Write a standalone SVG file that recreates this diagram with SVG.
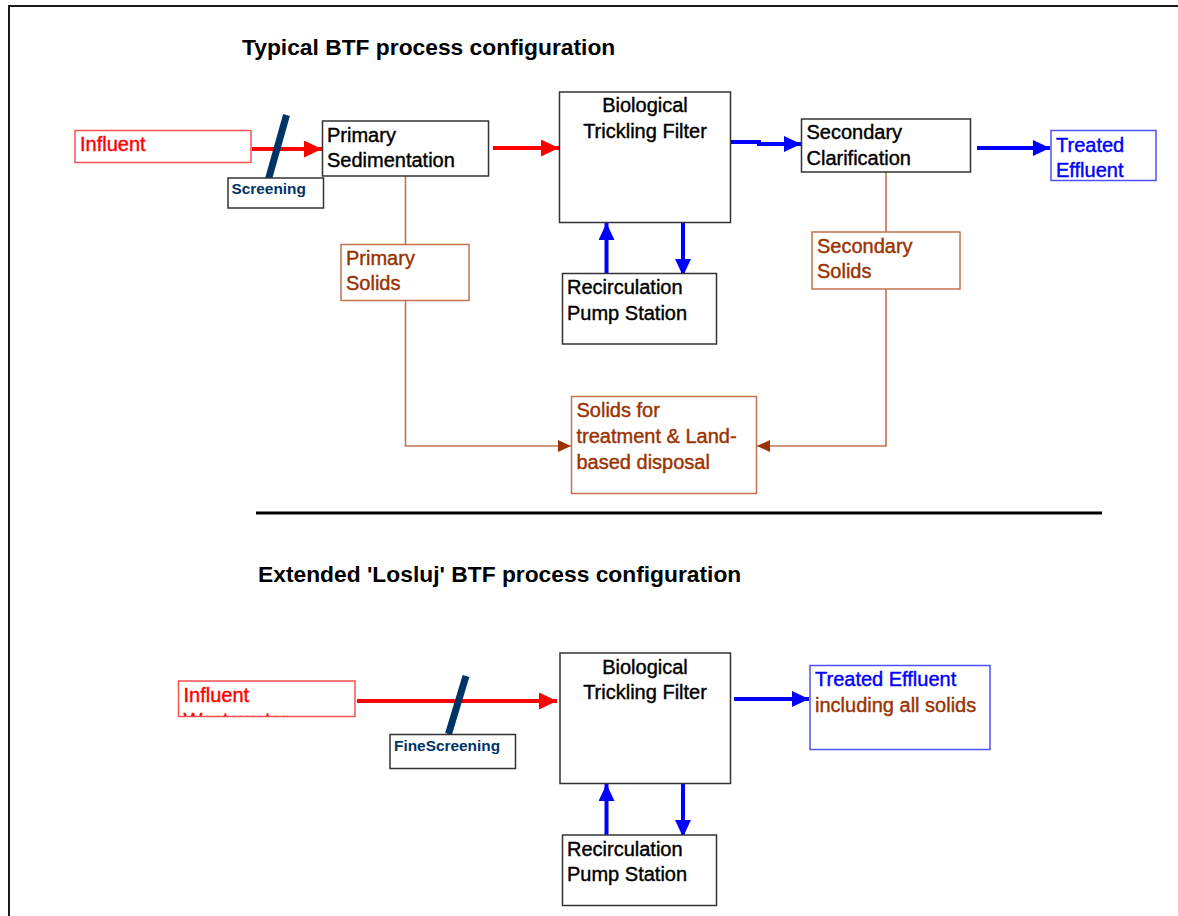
<svg xmlns="http://www.w3.org/2000/svg" width="1178" height="916" viewBox="0 0 1178 916">
<defs>
<style>
text{font-family:"Liberation Sans",Arial,sans-serif;font-size:20px;stroke-width:0.4}
.title{font-weight:bold;font-size:22.8px;fill:#000;stroke:none}
.box{fill:#fff;stroke:#333;stroke-width:1.5}
.bbox{fill:#fff;stroke:#c0734c;stroke-width:1.5}
.rbox{fill:#fff;stroke:#ff5050;stroke-width:1.5}
.ubox{fill:#fff;stroke:#5050ff;stroke-width:1.5}
.t{fill:#000;stroke:#000}
.tb{fill:#993300;stroke:#993300}
.tr{fill:#ff0000;stroke:#ff0000}
.tu{fill:#0000ff;stroke:#0000ff}
.scr{font-size:15.4px;font-weight:bold;fill:#003366;stroke:none}
.slash{stroke:#003366;stroke-width:7}
.red{stroke:#ff0000;stroke-width:4;fill:none}
.blue{stroke:#0000ff;stroke-width:4;fill:none}
.brown{stroke:#c0734c;stroke-width:1.6;fill:none}
</style>
<marker id="ah-red" markerUnits="userSpaceOnUse" markerWidth="18" markerHeight="17" refX="18" refY="8.5" orient="auto"><path d="M0,0 L18,8.5 L0,17 z" fill="#ff0000"/></marker>
<marker id="ah-blue" markerUnits="userSpaceOnUse" markerWidth="17" markerHeight="16" refX="17" refY="8" orient="auto"><path d="M0,0 L17,8 L0,16 z" fill="#0000ff"/></marker>
<marker id="ah-brown" markerUnits="userSpaceOnUse" markerWidth="13" markerHeight="12" refX="13" refY="6" orient="auto"><path d="M0,0 L13,6 L0,12 z" fill="#993300"/></marker>
<clipPath id="clip-ww"><rect x="179" y="681" width="176" height="35"/></clipPath>
</defs>
<rect width="1178" height="916" fill="#fff"/>
<path d="M9,920 V6 H1182" fill="none" stroke="#1a1a1a" stroke-width="2"/>

<text class="title" x="242" y="55">Typical BTF process configuration</text>
<line x1="256" y1="513" x2="1102" y2="513" stroke="#000" stroke-width="3"/>
<text class="title" x="258" y="582">Extended 'Losluj' BTF process configuration</text>

<g id="connectors">
<line class="red" x1="252" y1="149" x2="322" y2="149" marker-end="url(#ah-red)"/>
<line class="red" x1="493" y1="148" x2="559" y2="148" marker-end="url(#ah-red)"/>
<path class="blue" d="M731,142 H759 V144 H801" marker-end="url(#ah-blue)"/>
<line class="blue" x1="977" y1="148" x2="1050" y2="148" marker-end="url(#ah-blue)"/>
<line class="blue" x1="606.5" y1="273" x2="606.5" y2="223" marker-end="url(#ah-blue)"/>
<line class="blue" x1="683" y1="223" x2="683" y2="276" marker-end="url(#ah-blue)"/>
<path class="brown" d="M405.5,176 V244"/>
<path class="brown" d="M405.5,301 V446 H571" marker-end="url(#ah-brown)"/>
<path class="brown" d="M886,172 V232"/>
<path class="brown" d="M886,289 V446 H757" marker-end="url(#ah-brown)"/>
<line class="red" x1="357" y1="701" x2="557" y2="701" marker-end="url(#ah-red)"/>
<line class="blue" x1="734" y1="699" x2="809" y2="699" marker-end="url(#ah-blue)"/>
<line class="blue" x1="606.5" y1="835" x2="606.5" y2="784" marker-end="url(#ah-blue)"/>
<line class="blue" x1="683" y1="783" x2="683" y2="837" marker-end="url(#ah-blue)"/>
</g>

<g id="influent">
<rect class="rbox" x="75" y="130.5" width="176" height="32"/>
<text class="tr" x="80" y="151">Influent</text>
</g>
<g id="screening">
<line class="slash" x1="286.5" y1="115" x2="268.5" y2="179"/>
<rect class="box" x="228" y="178" width="95.5" height="30"/>
<text class="scr" x="231.5" y="193.5">Screening</text>
</g>
<g id="primary-sedimentation">
<rect class="box" x="322.5" y="121" width="166" height="55"/>
<text class="t" x="327" y="141.5">Primary</text>
<text class="t" x="327" y="166.5">Sedimentation</text>
</g>
<g id="btf-1">
<rect class="box" x="559.5" y="92" width="171" height="130.5"/>
<text class="t" x="645" y="112" text-anchor="middle">Biological</text>
<text class="t" x="645" y="137.5" text-anchor="middle">Trickling Filter</text>
</g>
<g id="secondary-clarification">
<rect class="box" x="801.5" y="119" width="169" height="53"/>
<text class="t" x="806.5" y="138.5">Secondary</text>
<text class="t" x="806.5" y="165">Clarification</text>
</g>
<g id="treated-effluent-1">
<rect class="ubox" x="1051" y="130.5" width="105" height="50"/>
<text class="tu" x="1056" y="152">Treated</text>
<text class="tu" x="1056" y="177">Effluent</text>
</g>
<g id="recirculation-1">
<rect class="box" x="562.5" y="273.5" width="154" height="70.5"/>
<text class="t" x="567" y="294">Recirculation</text>
<text class="t" x="567" y="319.5">Pump Station</text>
</g>
<g id="primary-solids">
<rect class="bbox" x="341" y="244.5" width="128" height="56"/>
<text class="tb" x="346" y="265">Primary</text>
<text class="tb" x="346" y="290">Solids</text>
</g>
<g id="secondary-solids">
<rect class="bbox" x="812" y="232" width="148" height="57"/>
<text class="tb" x="817" y="253">Secondary</text>
<text class="tb" x="817" y="277.5">Solids</text>
</g>
<g id="solids-disposal">
<rect class="bbox" x="571.5" y="396.5" width="185" height="97"/>
<text class="tb" x="576.5" y="417">Solids for</text>
<text class="tb" x="576.5" y="443">treatment &amp; Land-</text>
<text class="tb" x="576.5" y="468.5">based disposal</text>
</g>

<g id="influent-wastewater">
<rect class="rbox" x="178.5" y="681" width="176.5" height="35.5"/>
<g clip-path="url(#clip-ww)">
<text class="tr" x="183.5" y="701.5">Influent</text>
<text class="tr" x="183.5" y="727">Wastewater</text>
</g>
</g>
<g id="fine-screening">
<line class="slash" x1="466" y1="676" x2="448.5" y2="734"/>
<rect class="box" x="390" y="734.5" width="125.5" height="34"/>
<text class="scr" x="394" y="751">FineScreening</text>
</g>
<g id="btf-2">
<rect class="box" x="560" y="653" width="170.5" height="130.5"/>
<text class="t" x="645" y="673.5" text-anchor="middle">Biological</text>
<text class="t" x="645" y="699" text-anchor="middle">Trickling Filter</text>
</g>
<g id="treated-effluent-2">
<rect class="ubox" x="810" y="665.5" width="180" height="84"/>
<text class="tu" x="815" y="685.5">Treated Effluent</text>
<text class="tb" x="815" y="711.5">including all solids</text>
</g>
<g id="recirculation-2">
<rect class="box" x="562.5" y="835" width="154" height="70.5"/>
<text class="t" x="567" y="855.5">Recirculation</text>
<text class="t" x="567" y="881">Pump Station</text>
</g>
</svg>
